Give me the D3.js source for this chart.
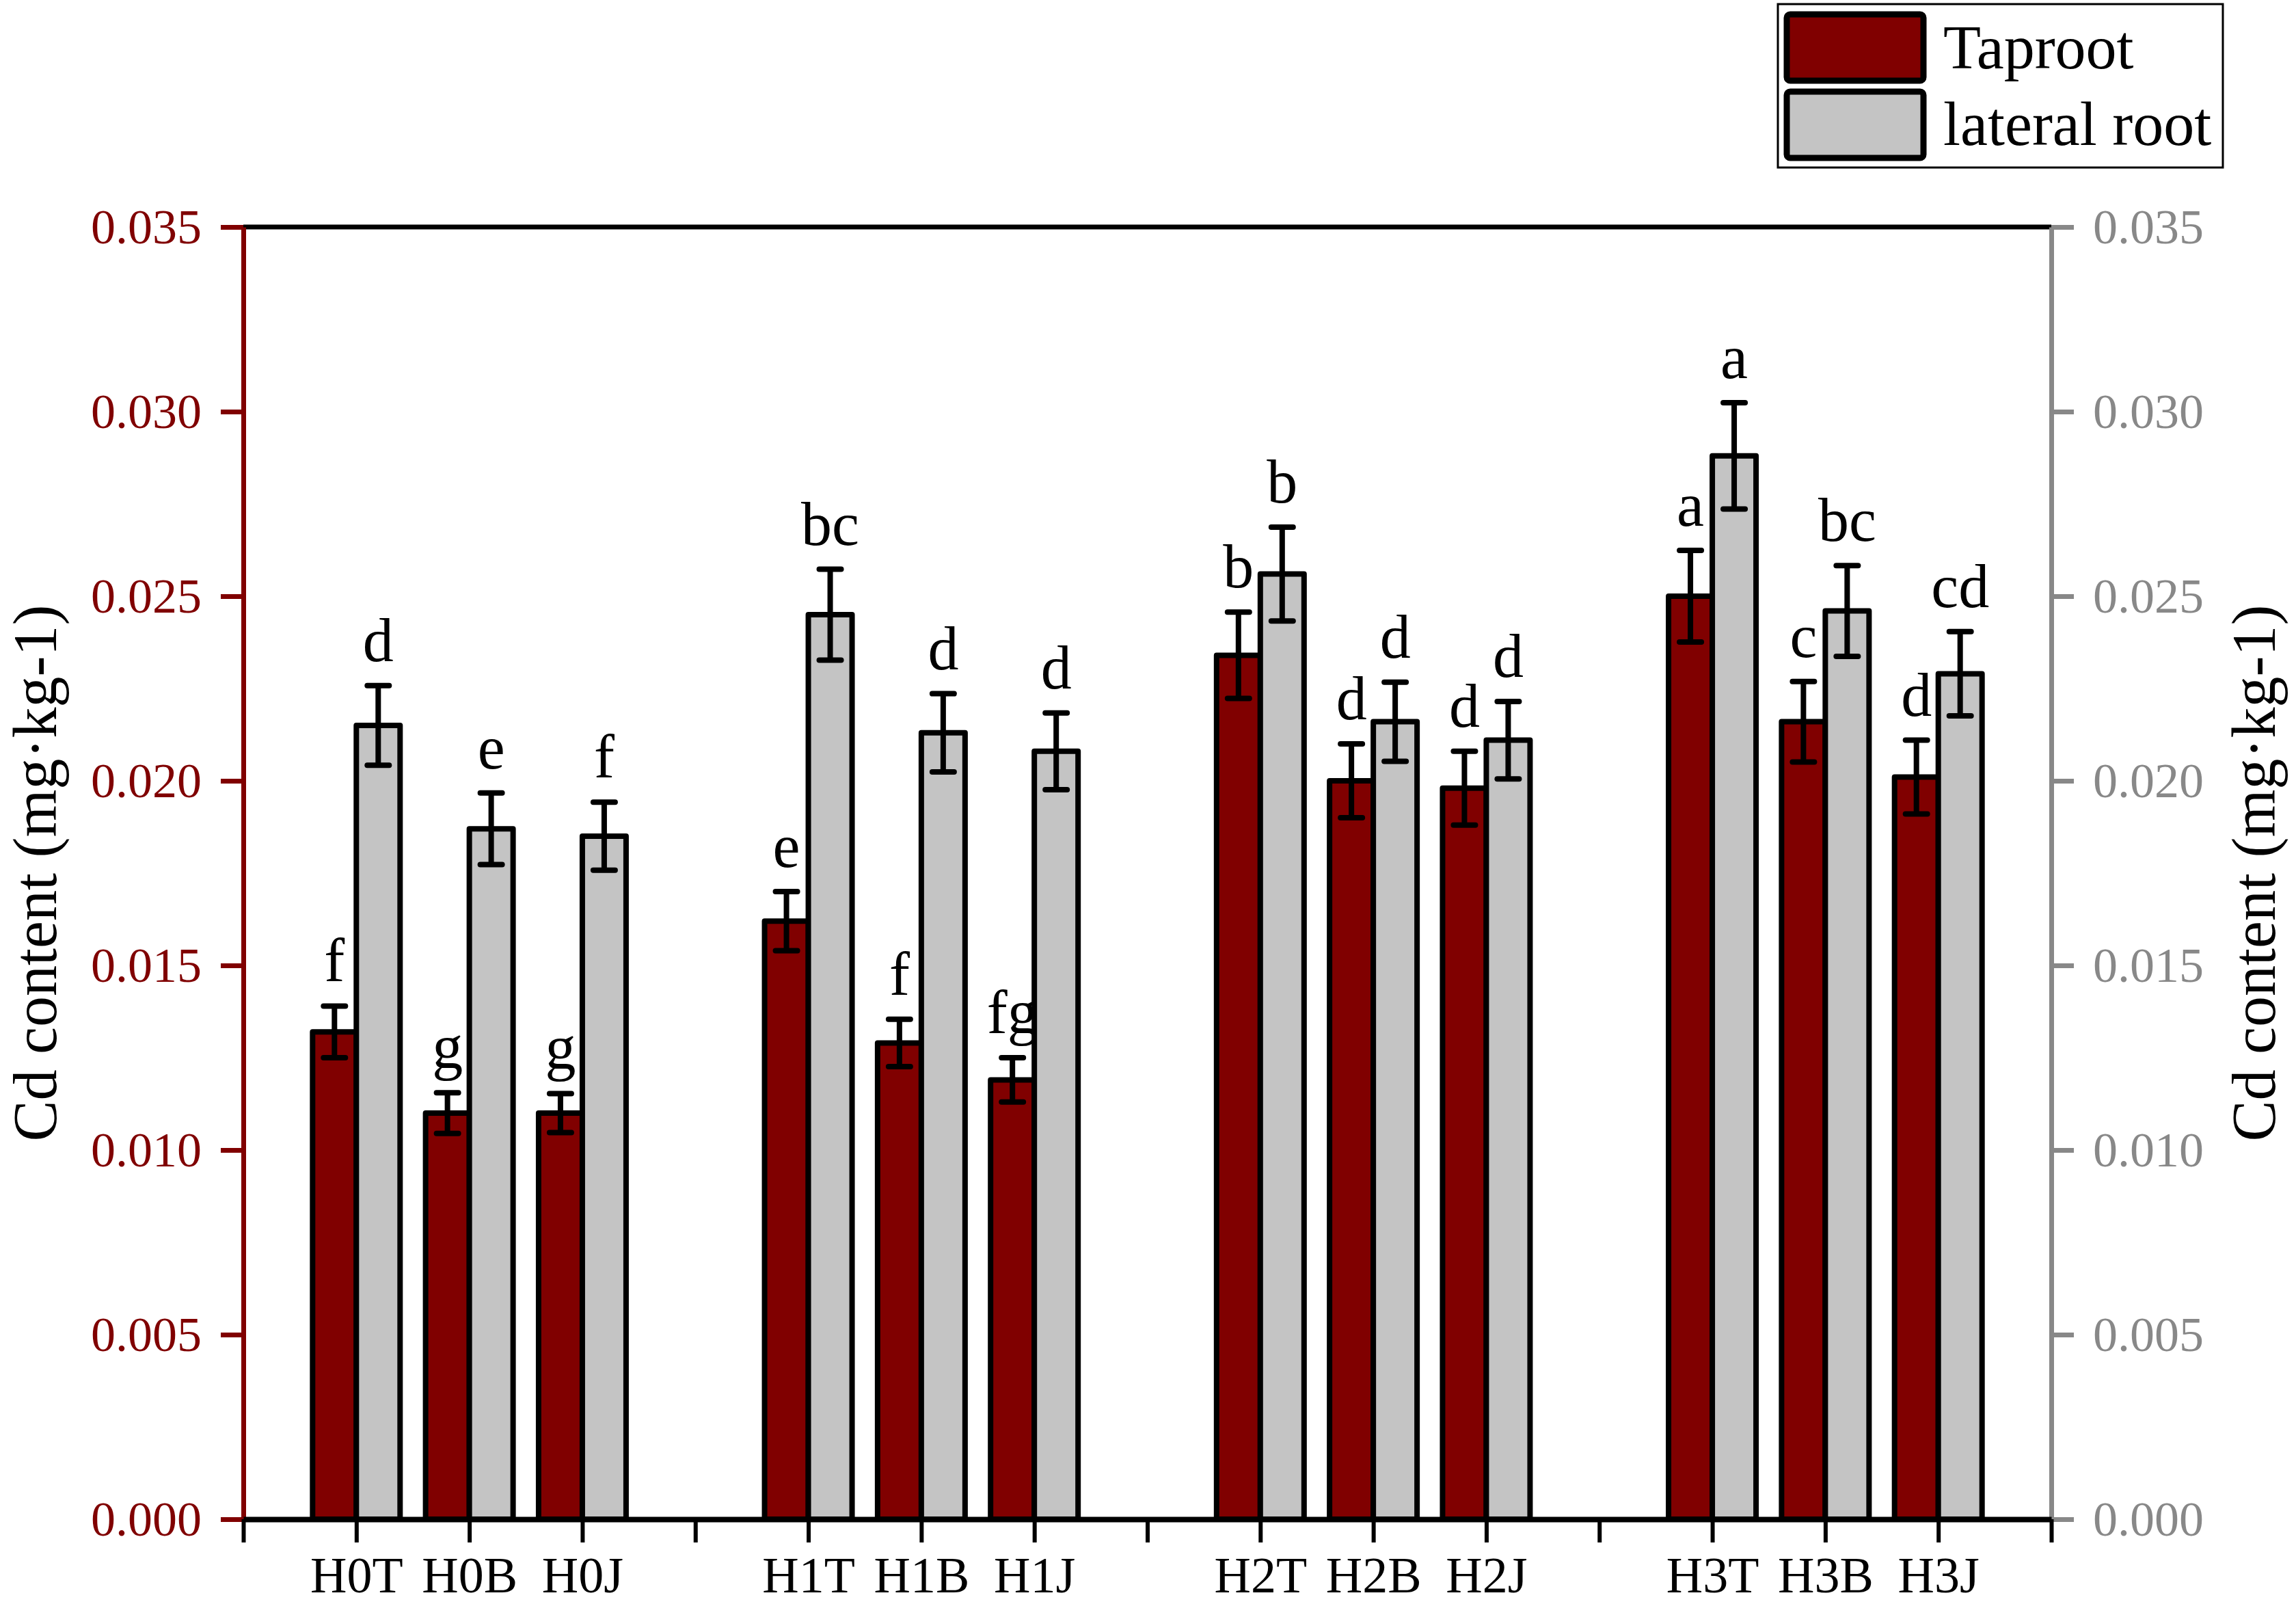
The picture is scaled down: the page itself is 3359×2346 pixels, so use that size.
<!DOCTYPE html>
<html>
<head>
<meta charset="utf-8">
<script src="https://cdn.jsdelivr.net/npm/d3@7"></script>
<style>
  body { margin: 0; background: #fff; }
  svg text { font-family: "Times New Roman", "Liberation Serif", serif; }
</style>
</head>
<body>
<script>
// categories: 4 treatment groups x 3 parts
var groups = ["H0", "H1", "H2", "H3"];
var parts = ["T", "B", "J"];
var categories = ["H0T", "H0B", "H0J", "H1T", "H1B", "H1J", "H2T", "H2B", "H2J", "H3T", "H3B", "H3J"];

// Cd content (mg·kg-1)
var taproot    = [0.0132, 0.0110, 0.0110, 0.0162, 0.0129, 0.0119, 0.0234, 0.0200, 0.0198, 0.0250, 0.0216, 0.0201];
var taprootErr = [0.0007, 0.00055, 0.00053, 0.0008, 0.00064, 0.0006, 0.00117, 0.0010, 0.0010, 0.00124, 0.00109, 0.0010];
var lateral    = [0.0215, 0.0187, 0.0185, 0.0245, 0.0213, 0.0208, 0.0256, 0.0216, 0.0211, 0.0288, 0.0246, 0.0229];
var lateralErr = [0.00108, 0.00097, 0.00092, 0.00123, 0.00106, 0.00104, 0.00127, 0.00107, 0.00105, 0.00144, 0.00123, 0.00114];
var taprootLetters = ["f", "g", "g", "e", "f", "fg", "b", "d", "d", "a", "c", "d"];
var lateralLetters = ["d", "e", "f", "bc", "d", "d", "b", "d", "d", "a", "bc", "cd"];
var yTicks = [0, 0.005, 0.010, 0.015, 0.020, 0.025, 0.030, 0.035];
var seriesNames = ["Taproot", "lateral root"];

var width = 3359, height = 2346;
var margin = { top: 332, right: 358, bottom: 124, left: 356 };
var red = "#800000", grey = "#c4c4c4", axisGrey = "#888888";
var serif = "Times New Roman, Liberation Serif, serif";
var barW = 64;

// one slot per category, plus an empty slot between groups
var slotOf = {};
categories.forEach(function (c, i) {
  var g = groups.indexOf(c.slice(0, 2)), p = parts.indexOf(c.slice(2));
  slotOf[c] = g * 4 + p + 1;
});
var nSlots = groups.length * 4;

var x = d3.scaleLinear().domain([0, nSlots]).range([margin.left, width - margin.right]);
var y = d3.scaleLinear().domain([0, 0.035]).range([height - margin.bottom, margin.top]);

var svg = d3.select("body").append("svg")
  .attr("width", width).attr("height", height);

var rows = categories.map(function (c, i) {
  return { cat: c, cx: x(slotOf[c]), tap: taproot[i], tapE: taprootErr[i], lat: lateral[i], latE: lateralErr[i],
           tapL: taprootLetters[i], latL: lateralLetters[i] };
});

// bars
var bars = [];
rows.forEach(function (d) {
  bars.push({ x: d.cx - barW, v: d.tap, e: d.tapE, label: d.tapL, fill: red });
  bars.push({ x: d.cx, v: d.lat, e: d.latE, label: d.latL, fill: grey });
});

svg.append("g").selectAll("rect").data(bars).enter().append("rect")
  .attr("x", d => d.x)
  .attr("y", d => y(d.v))
  .attr("width", barW)
  .attr("height", d => y(0) - y(d.v))
  .attr("fill", d => d.fill)
  .attr("stroke", "#000")
  .attr("stroke-width", 8)
  .attr("stroke-linejoin", "round");

// error bars
var eb = svg.append("g").attr("stroke", "#000").attr("stroke-width", 8);
bars.forEach(function (d) {
  var cx = d.x + barW / 2;
  eb.append("line").attr("x1", cx).attr("x2", cx).attr("y1", y(d.v - d.e)).attr("y2", y(d.v + d.e));
  [d.v - d.e, d.v + d.e].forEach(function (v) {
    eb.append("line").attr("x1", cx - 16).attr("x2", cx + 16).attr("y1", y(v)).attr("y2", y(v))
      .attr("stroke-linecap", "round");
  });
});

// significance letters
svg.append("g").selectAll("text").data(bars).enter().append("text")
  .attr("x", d => d.x + barW / 2)
  .attr("y", d => y(d.v + d.e) - 36)
  .attr("text-anchor", "middle")
  .attr("font-size", 90)
  .attr("fill", "#000")
  .text(d => d.label);

// top frame line
svg.append("line")
  .attr("x1", x(0)).attr("x2", x(nSlots))
  .attr("y1", y(0.035)).attr("y2", y(0.035))
  .attr("stroke", "#000").attr("stroke-width", 7);

// left axis
var leftAxis = svg.append("g")
  .attr("transform", `translate(${x(0)},0)`)
  .call(d3.axisLeft(y).tickValues(yTicks).tickFormat(d3.format(".3f")).tickSize(33).tickSizeOuter(0).tickPadding(28));
leftAxis.select(".domain").attr("stroke", red).attr("stroke-width", 7);
leftAxis.selectAll(".tick line").attr("stroke", red).attr("stroke-width", 7);
leftAxis.selectAll(".tick text").attr("fill", red).attr("font-size", 72).attr("font-family", serif);

// right axis
var rightAxis = svg.append("g")
  .attr("transform", `translate(${x(nSlots)},0)`)
  .call(d3.axisRight(y).tickValues(yTicks).tickFormat(d3.format(".3f")).tickSize(33).tickSizeOuter(0).tickPadding(28));
rightAxis.select(".domain").attr("stroke", axisGrey).attr("stroke-width", 7);
rightAxis.selectAll(".tick line").attr("stroke", axisGrey).attr("stroke-width", 7);
rightAxis.selectAll(".tick text").attr("fill", axisGrey).attr("font-size", 72).attr("font-family", serif);

// bottom axis: a tick at every slot, labels only under the categories
var labelBySlot = {};
categories.forEach(function (c) { labelBySlot[slotOf[c]] = c; });
var bottomAxis = svg.append("g")
  .attr("transform", `translate(0,${y(0)})`)
  .call(d3.axisBottom(x).tickValues(d3.range(nSlots + 1)).tickFormat(k => labelBySlot[k] || "")
    .tickSize(34).tickSizeOuter(0).tickPadding(20));
bottomAxis.select(".domain").attr("stroke", "#000").attr("stroke-width", 8);
bottomAxis.selectAll(".tick line").attr("stroke", "#000").attr("stroke-width", 6);
bottomAxis.selectAll(".tick text").attr("fill", "#000").attr("font-size", 74).attr("font-family", serif);

// axis titles
var midY = (y(0) + y(0.035)) / 2;
svg.append("text")
  .attr("transform", `translate(82,${midY}) rotate(-90)`)
  .attr("text-anchor", "middle").attr("font-size", 90).attr("fill", "#000")
  .text("Cd content (mg·kg-1)");
svg.append("text")
  .attr("transform", `translate(3328,${midY}) rotate(-90)`)
  .attr("text-anchor", "middle").attr("font-size", 90).attr("fill", "#000")
  .text("Cd content (mg·kg-1)");

// legend
var legend = svg.append("g");
legend.append("rect")
  .attr("x", 2601).attr("y", 6).attr("width", 651).attr("height", 239)
  .attr("fill", "#fff").attr("stroke", "#000").attr("stroke-width", 3);
[red, grey].forEach(function (col, i) {
  legend.append("rect")
    .attr("x", 2614).attr("y", 21 + i * 113).attr("width", 200).attr("height", 97)
    .attr("rx", 5).attr("fill", col).attr("stroke", "#000").attr("stroke-width", 9);
  legend.append("text")
    .attr("x", 2843).attr("y", 100 + i * 112)
    .attr("font-size", 90).attr("fill", "#000")
    .text(seriesNames[i]);
});
</script>
</body>
</html>
